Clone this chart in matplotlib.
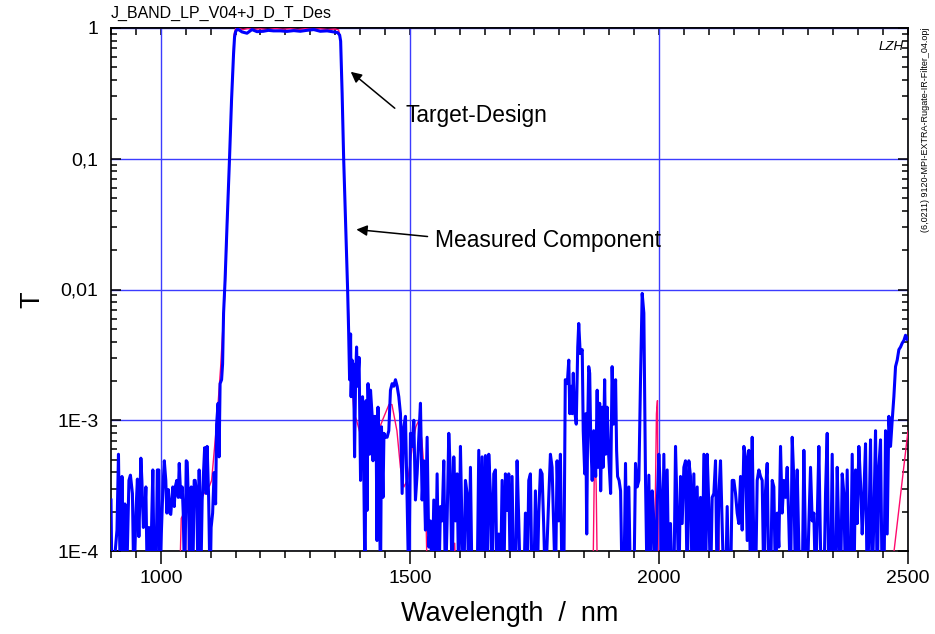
import numpy as np
import matplotlib
matplotlib.use("Agg")
import matplotlib.pyplot as plt
from matplotlib.ticker import FixedLocator, FixedFormatter, MultipleLocator, LogLocator, NullFormatter

plt.rcParams['font.family'] = ['Liberation Sans', 'DejaVu Sans']

# ---- measured component (log10 T) ----
wl_meas_a = [900, 902, 912, 915, 917, 919, 922, 925, 928, 931,
             936, 939, 943, 946, 950, 953, 956, 960, 962, 965,
             968, 970, 973, 976, 979, 982, 984, 987, 990, 993,
             996, 998, 1001, 1004, 1007, 1010, 1012, 1015, 1018, 1020,
             1024, 1027, 1029, 1032, 1035, 1037, 1040, 1043, 1045, 1048,
             1051, 1053, 1056, 1059, 1061, 1064, 1067, 1069, 1072, 1075,
             1077, 1080, 1083, 1085, 1088, 1091, 1093, 1096, 1099, 1101,
             1104, 1107, 1110, 1112, 1115, 1117, 1119, 1122, 1124, 1126,
             1129]
logT_meas_a = [-3.61, -4.3, -3.84, -3.26, -3.82, -4.3, -3.43, -4.3, -3.64, -4.3,
               -3.46, -3.42, -3.56, -4.3, -3.71, -3.45, -3.89, -3.29, -3.46, -3.82,
               -3.71, -3.51, -4.3, -3.82, -4.3, -3.71, -3.38, -4.3, -4.3, -3.38,
               -3.38, -4.3, -3.87, -3.54, -3.31, -3.46, -3.71, -3.53, -3.71, -3.72,
               -3.51, -3.66, -3.51, -3.46, -3.59, -3.33, -3.59, -3.51, -3.71, -4.3,
               -3.31, -3.32, -3.71, -4.3, -3.51, -4.3, -3.46, -3.46, -3.56, -4.3,
               -3.38, -4.3, -3.61, -3.46, -3.21, -3.56, -3.20, -3.59, -4.3, -3.82,
               -3.71, -3.40, -3.64, -3.03, -2.87, -3.28, -2.72, -2.69, -2.57, -2.18,
               -1.93]

wl_meas_band = [1133, 1138, 1142, 1146, 1148, 1150, 1153, 1156, 1163, 1173,
                1183, 1193, 1206, 1216, 1226, 1240, 1253, 1267, 1280, 1293,
                1307, 1320, 1334, 1347, 1355, 1359, 1361, 1364, 1367, 1371,
                1375, 1377, 1379]
logT_meas_band = [-1.5, -0.99, -0.55, -0.2, -0.07, -0.03, -0.01, -0.012, -0.03, -0.04,
                  -0.012, -0.028, -0.025, -0.018, -0.022, -0.022, -0.026, -0.02, -0.025, -0.018,
                  -0.012, -0.025, -0.022, -0.03, -0.035, -0.054, -0.1, -0.5, -0.99, -1.5,
                  -2.0, -2.31, -2.69]

wl_meas_c = [1381, 1382, 1384, 1386, 1387, 1389, 1391, 1393, 1395, 1398,
             1401, 1403, 1405, 1407, 1410, 1412, 1414, 1416, 1419, 1421,
             1424, 1426, 1428, 1430, 1432, 1434, 1436, 1438, 1441, 1443,
             1446, 1448]
logT_meas_c = [-2.34, -2.82, -2.54, -2.82, -2.57, -3.28, -2.69, -2.44, -2.74, -2.52,
               -3.46, -2.85, -2.82, -3.23, -4.3, -2.85, -3.69, -2.72, -3.26, -2.77,
               -2.95, -3.31, -2.97, -3.28, -2.97, -3.92, -2.90, -3.20, -4.3, -3.05,
               -3.59, -3.10]

# 1451 .. 1809 nm, evenly sampled
logT_meas_d = [-3.13, -3.13, -3.08, -2.77, -2.72, -2.74, -2.69, -2.74, -2.82, -2.95,
               -3.56, -3.05, -2.97, -3.61, -4.3, -3.10, -3.20, -3.00, -3.61, -3.41,
               -3.13, -2.87, -3.61, -3.31, -3.84, -3.13, -3.97, -3.77, -4.3, -3.61,
               -4.3, -3.41, -4.3, -3.66, -3.77, -3.31, -4.3, -3.77, -3.10, -3.41,
               -4.3, -3.28, -3.77, -3.41, -4.3, -3.20, -3.87, -4.3, -3.46, -3.56,
               -4.3, -3.36, -4.3, -4.3, -4.3, -4.3, -3.23, -4.3, -3.28, -4.3,
               -3.27, -4.3, -3.26, -3.56, -4.3, -3.41, -3.38, -4.3, -3.87, -4.3,
               -3.46, -4.3, -3.41, -3.69, -3.41, -4.3, -3.43, -4.3, -4.3, -3.31,
               -3.77, -4.3, -4.3, -4.3, -3.71, -4.3, -3.46, -3.41, -4.3, -4.3,
               -3.54, -4.3, -3.71, -3.38, -3.41, -3.82, -4.3, -3.94, -3.59, -3.26,
               -3.36, -3.84, -4.3, -3.31, -3.77, -3.26, -4.3, -4.3]

wl_meas_e = [1812, 1816, 1819, 1821, 1824, 1826, 1828, 1830, 1834, 1837,
             1839, 1842, 1846, 1848, 1851, 1853, 1855, 1857, 1859, 1861,
             1863, 1866, 1869, 1873, 1876, 1878, 1881, 1883, 1886, 1888,
             1891, 1893, 1896, 1899, 1903, 1906, 1909, 1913, 1915, 1917,
             1920, 1923]
logT_meas_e = [-2.69, -2.72, -2.54, -2.95, -2.74, -2.95, -2.64, -2.90, -3.03, -2.44,
               -2.26, -2.49, -2.46, -3.08, -3.41, -2.95, -3.87, -3.03, -2.59, -2.64,
               -3.13, -3.46, -3.08, -3.43, -2.77, -3.36, -2.87, -3.54, -2.90, -3.36,
               -2.69, -3.26, -2.90, -3.26, -3.56, -2.59, -3.03, -2.69, -3.23, -3.43,
               -3.46, -3.54]

# 1926 .. 2498 nm, evenly sampled
logT_meas_f = [-4.3, -4.3, -3.33, -4.3, -3.51, -4.3, -4.3, -4.3, -3.33, -3.51,
               -3.46, -2.69, -2.03, -2.18, -3.46, -4.3, -3.42, -4.3, -3.54, -3.77,
               -4.3, -3.66, -3.26, -3.56, -4.3, -3.26, -4.3, -3.38, -4.3, -3.79,
               -4.3, -4.3, -3.20, -3.71, -4.3, -3.43, -3.79, -3.36, -3.31, -4.3,
               -3.31, -3.43, -4.3, -3.41, -4.3, -3.51, -4.3, -3.59, -4.3, -3.26,
               -4.3, -3.26, -3.66, -4.3, -3.59, -3.56, -3.31, -4.3, -3.56, -3.31,
               -3.82, -4.3, -4.3, -3.66, -4.3, -4.3, -3.46, -3.46, -3.56, -3.71,
               -3.79, -3.43, -3.84, -3.20, -3.28, -3.92, -3.23, -4.3, -3.13, -3.97,
               -4.3, -3.46, -3.38, -3.43, -3.46, -4.3, -3.54, -3.33, -4.3, -4.3,
               -3.46, -3.51, -4.3, -3.71, -3.97, -3.20, -3.71, -3.46, -3.59, -3.36,
               -3.79, -4.3, -3.13, -3.46, -4.3, -3.38, -3.97, -4.3, -4.3, -3.23,
               -3.97, -4.3, -3.79, -3.36, -3.77, -3.71, -4.3, -3.77, -3.20, -3.97,
               -4.3, -4.3, -3.56, -3.10, -4.3, -4.3, -3.26, -4.3, -4.3, -3.36,
               -3.89, -4.3, -3.41, -3.56, -4.3, -3.38, -4.3, -4.3, -3.26, -4.3,
               -3.38, -3.79, -3.20, -3.48, -3.87, -3.56, -3.18, -4.3, -3.87, -3.15,
               -4.3, -3.74, -3.08, -4.3, -3.36, -3.15, -4.3, -4.3, -3.08, -3.87,
               -2.97, -3.20, -3.00, -2.82, -2.59, -2.54, -2.46, -2.44, -2.41, -2.39,
               -2.35, -2.38]

# ---- target design (log10 T) ----
wl_des = [900, 1036, 1041, 1045, 1049, 1053, 1057, 1080, 1098, 1102,
          1112, 1120, 1129, 1138, 1147, 1150, 1155, 1165, 1175, 1185,
          1200, 1215, 1230, 1245, 1260, 1275, 1290, 1305, 1320, 1335,
          1350, 1357, 1361, 1367, 1375, 1381, 1388, 1393, 1400, 1425,
          1445, 1458, 1464, 1474, 1481, 1488, 1496, 1505, 1512, 1518,
          1524, 1531, 1536, 1586, 1590, 1594, 1867, 1871, 1874, 1877,
          1990, 1995, 1997, 1999, 2115, 2119, 2123, 2368, 2374, 2379,
          2472, 2500]
logT_des = [-4.5, -4.5, -3.75, -3.72, -4.4, -4.4, -3.65, -3.6, -3.5, -3.46,
            -3.03, -2.6, -2.0, -1.0, -0.05, -0.005, -0.003, -0.012, -0.004, -0.01,
            -0.006, -0.012, -0.004, -0.01, -0.005, -0.012, -0.005, -0.01, -0.006, -0.012,
            -0.008, -0.015, -0.1, -0.99, -2.0, -2.6, -2.95, -3.0, -3.1, -3.2,
            -3.0, -2.88, -2.88, -3.08, -3.36, -3.51, -3.45, -3.2, -3.05, -3.0,
            -3.15, -3.51, -4.4, -4.4, -3.94, -4.4, -4.4, -3.15, -3.5, -4.4,
            -4.4, -2.95, -2.85, -4.4, -4.4, -3.6, -4.4, -4.4, -3.88, -4.4,
            -4.0, -3.08]

y_ticks = [1e-4, 1e-3, 1e-2, 1e-1, 1]
y_labels = ["1E-4", "1E-3", "0,01", "0,1", "1"]
x_ticks = [1000, 1500, 2000, 2500]

wl_meas = np.concatenate([wl_meas_a, wl_meas_band, wl_meas_c,
                          np.linspace(1451.0, 1808.9, len(logT_meas_d)),
                          wl_meas_e,
                          np.linspace(1926.2, 2498.4, len(logT_meas_f))])
T_meas = 10 ** np.concatenate([logT_meas_a, logT_meas_band, logT_meas_c,
                               logT_meas_d, logT_meas_e, logT_meas_f])
T_des = 10 ** np.array(logT_des)

fig = plt.figure(figsize=(9.35, 6.34), dpi=100)
ax = fig.add_axes([111 / 935, 1 - 551 / 634, 797 / 935, 523 / 634])

ax.plot(wl_des, T_des, color="#ff0a6c", lw=1.0, zorder=3)
ax.plot(wl_meas, T_meas, color="#0000ff", lw=2.2, zorder=4)

ax.set_yscale("log")
ax.set_xlim(900, 2500)
ax.set_ylim(1e-4, 1)

ax.yaxis.set_major_locator(FixedLocator(y_ticks))
ax.yaxis.set_major_formatter(FixedFormatter(y_labels))
ax.yaxis.set_minor_locator(LogLocator(base=10, subs=np.arange(2, 10)))
ax.yaxis.set_minor_formatter(NullFormatter())
ax.xaxis.set_major_locator(FixedLocator(x_ticks))
ax.xaxis.set_minor_locator(MultipleLocator(50))

ax.grid(True, which="major", color="#3c3cff", lw=1.0, zorder=1)
ax.set_axisbelow(True)

ax.tick_params(axis="y", which="both", direction="in", left=True, right=True,
               labelsize=14, pad=9, width=1.1)
ax.tick_params(axis="y", which="major", length=7)
ax.tick_params(axis="y", which="minor", length=4)
ax.tick_params(axis="x", which="both", direction="out", top=False,
               labelsize=14, width=1.1)
ax.tick_params(axis="x", which="major", length=9, pad=5)
ax.tick_params(axis="x", which="minor", length=5)

top = ax.secondary_xaxis("top")
top.xaxis.set_major_locator(MultipleLocator(50))
top.tick_params(direction="in", length=5, width=1.1, labeltop=False)

for s in ax.spines.values():
    s.set_linewidth(1.2)
top.spines["top"].set_linewidth(1.2)

ax.set_xlabel("Wavelength  /  nm", fontsize=19.5, labelpad=10)
ax.set_ylabel("T", fontsize=19.5)
ax.yaxis.set_label_coords(-0.082, 0.48)
ax.set_title("J_BAND_LP_V04+J_D_T_Des", loc="left", fontsize=11.5, pad=7)

ax.annotate("", xy=(1377, 0.477), xytext=(1474, 0.236),
            arrowprops=dict(arrowstyle="-|>", color="black", lw=1.1, mutation_scale=16))
ax.text(1491, 0.216, "Target-Design", fontsize=16.4, ha="left", va="center")
ax.annotate("", xy=(1387, 0.0289), xytext=(1541, 0.0253),
            arrowprops=dict(arrowstyle="-|>", color="black", lw=1.1, mutation_scale=16))
ax.text(1551, 0.0239, "Measured Component", fontsize=16.4, ha="left", va="center")

ax.text(0.995, 0.975, "LZH", transform=ax.transAxes, fontsize=9.5,
        style="italic", ha="right", va="top")
fig.text(925 / 935, 1 - 28 / 634, "(6,0211) 9120-MPI-EXTRA-Rugate-IR-Filter_04.opj",
         rotation=90, fontsize=6.5, ha="center", va="top")

fig.savefig("out.png", dpi=100)
